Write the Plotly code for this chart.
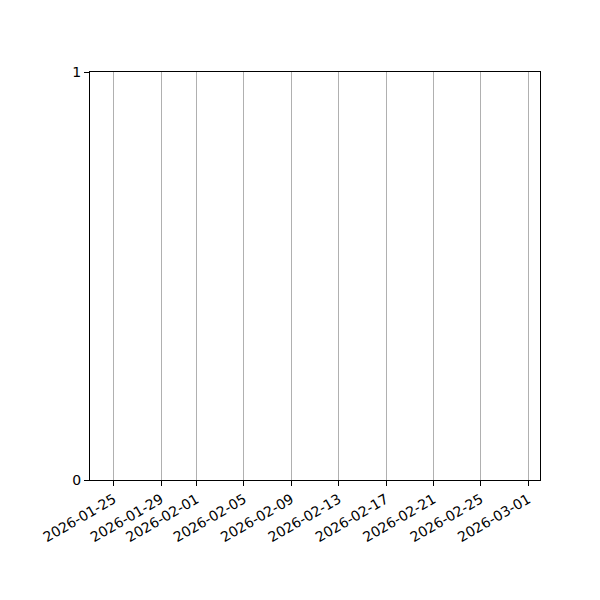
import plotly.graph_objects as go

# Dati: grafico vuoto, solo asse temporale
x_range = ["2026-01-23", "2026-03-02"]
tick_dates = ["2026-01-25", "2026-01-29", "2026-02-01", "2026-02-05", "2026-02-09",
              "2026-02-13", "2026-02-17", "2026-02-21", "2026-02-25", "2026-03-01"]
y_ticks = [0, 1]
x_values = []
y_values = []

fig = go.Figure()
fig.add_trace(go.Scatter(x=x_values, y=y_values, mode="lines", showlegend=False))

fig.update_layout(
    width=600, height=600,
    margin=dict(l=82, r=68, t=64, b=128),
    paper_bgcolor="white", plot_bgcolor="white",
    font=dict(family="DejaVu Sans", size=14, color="black"),
    showlegend=False,
)
fig.update_xaxes(
    type="date", range=x_range, automargin=False,
    tickmode="array", tickvals=tick_dates, ticktext=tick_dates,
    tickangle=-30,
    showgrid=True, gridcolor="#b0b0b0", gridwidth=1,
    showline=True, linecolor="black", linewidth=1, mirror=True,
    ticks="outside", ticklen=5, tickcolor="black",
    zeroline=False,
)
fig.update_yaxes(
    range=[0, 1], tickmode="array", tickvals=y_ticks, automargin=False,
    showgrid=False,
    showline=True, linecolor="black", linewidth=1, mirror=True,
    ticks="outside", ticklen=5, tickcolor="black",
    zeroline=False,
)

fig.write_html("out.html")
